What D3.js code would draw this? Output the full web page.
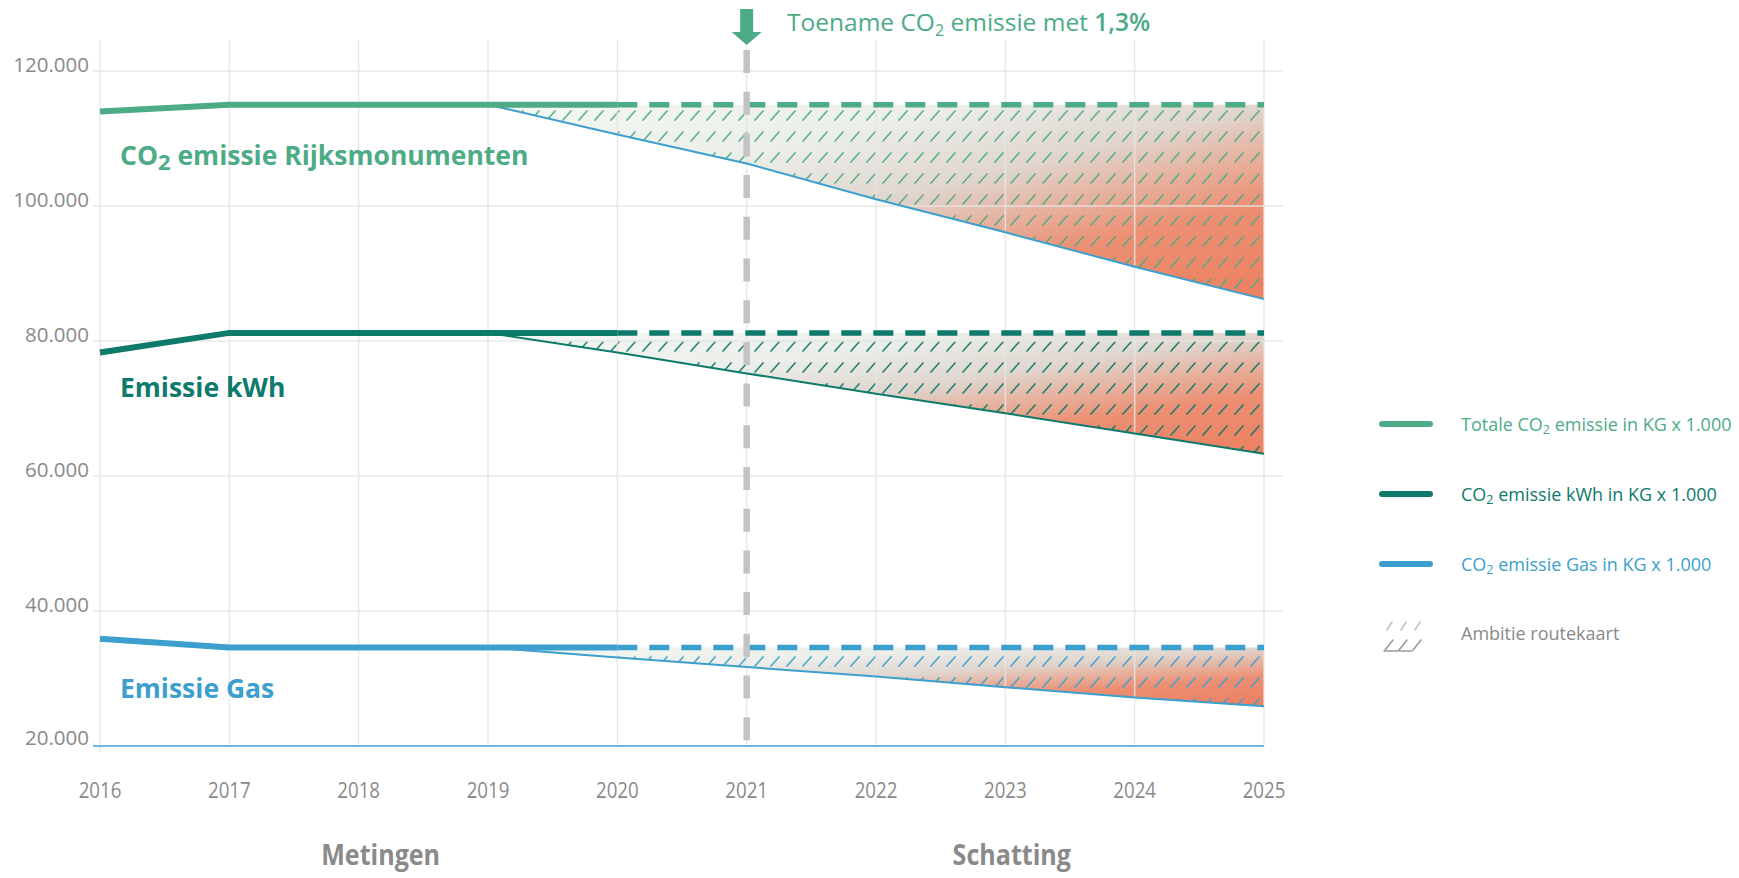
<!DOCTYPE html>
<html>
<head>
<meta charset="utf-8">
<script src="https://cdn.jsdelivr.net/npm/d3@7/dist/d3.min.js"></script>
<style>
  html, body { margin: 0; padding: 0; background: #ffffff; }
  svg { display: block; }
  text { font-family: "Open Sans", "Noto Sans", sans-serif; }
</style>
</head>
<body>
<svg id="chart" width="1739" height="878"></svg>
<script>
// ---------- data ----------
const years = [2016, 2017, 2018, 2019, 2020, 2021, 2022, 2023, 2024, 2025];
const measuredYears = [2016, 2017, 2018, 2019, 2020];
const projectedYears = [2019, 2020, 2021, 2022, 2023, 2024, 2025];
const dashedYears = [2020, 2021, 2022, 2023, 2024, 2025];

const totalMeasured = [114000, 115000, 115000, 115000, 115000];
const kwhMeasured   = [78300, 81200, 81200, 81200, 81200];
const gasMeasured   = [35900, 34600, 34600, 34600, 34600];

const totalProjected = [115000, 110600, 106300, 101000, 96100, 91000, 86200];
const kwhProjected   = [81200, 78300, 75200, 72200, 69300, 66300, 63300];
const gasProjected   = [34600, 33100, 31700, 30300, 28700, 27200, 25900];

const totalLevel = 115000, kwhLevel = 81200, gasLevel = 34600;

const yTicks = [20000, 40000, 60000, 80000, 100000, 120000];
const markYear = 2021;

const seriesNames = ["Totale CO₂ emissie in KG x 1.000", "CO₂ emissie kWh in KG x 1.000", "CO₂ emissie Gas in KG x 1.000"];
const seriesLabels = ["CO₂ emissie Rijksmonumenten", "Emissie kWh", "Emissie Gas"];
const periodLabels = ["Metingen", "Schatting"];
const periodYears = [2018.17, 2023.05];
const titleParts = ["Toename CO", "2", " emissie met ", "1,3%"];
const hatchLegend = "Ambitie routekaart";

const colors = { total: "#4dab86", kwh: "#0d7a6b", gas: "#3c9fcd", grid: "#e6e6e6", text: "#8a8a8a" };

// ---------- scales ----------
const svg = d3.select("#chart");
const x = d3.scaleLinear().domain([2016, 2025]).range([100, 1264]);
const y = d3.scaleLinear().domain([20000, 120000]).range([746, 71]);

// ---------- defs: gradients & hatches ----------
const defs = svg.append("defs");
function makeGradient(id) {
  const g = defs.append("linearGradient").attr("id", id)
    .attr("x1", 0).attr("y1", 0).attr("x2", 1).attr("y2", 1);
  [[0, "#f4f7f3"], [0.3, "#eceeea"], [0.5, "#e0d6cf"], [0.62, "#e6b3a0"], [0.75, "#ec8f73"], [1, "#ee7f60"]]
    .forEach(([o, c]) => g.append("stop").attr("offset", o).attr("stop-color", c));
}
function makeHatch(id, color) {
  const p = defs.append("pattern").attr("id", id).attr("patternUnits", "userSpaceOnUse")
    .attr("width", 16).attr("height", 21);
  p.append("line").attr("x1", 3).attr("y1", 15).attr("x2", 11).attr("y2", 6)
    .attr("stroke", color).attr("stroke-width", 1.7).attr("stroke-linecap", "round").attr("opacity", 0.9);
}
["gTotal", "gKwh", "gGas"].forEach(makeGradient);
makeHatch("hTotal", colors.total);
makeHatch("hKwh", colors.kwh);
makeHatch("hGas", colors.gas);

// ---------- areas ----------
const area = d3.area().x(d => x(d.year)).y0(d => y(d.lo)).y1(d => y(d.hi));
function drawArea(proj, level, grad, hatch) {
  const data = projectedYears.map((yr, i) => ({ year: yr, lo: proj[i], hi: level }));
  svg.append("path").datum(data).attr("d", area).attr("fill", `url(#${grad})`);
  svg.append("path").datum(data).attr("d", area).attr("fill", `url(#${hatch})`);
}
drawArea(totalProjected, totalLevel, "gTotal", "hTotal");
drawArea(kwhProjected, kwhLevel, "gKwh", "hKwh");
drawArea(gasProjected, gasLevel, "gGas", "hGas");

// ---------- grid ----------
const grid = svg.append("g");
grid.selectAll("line.v").data(years).join("line")
  .attr("x1", d => x(d)).attr("x2", d => x(d))
  .attr("y1", 40).attr("y2", d => d === 2016 ? 752 : 746)
  .attr("stroke", colors.grid).attr("stroke-width", 1.5).attr("opacity", 0.85);
grid.selectAll("line.h").data(yTicks.filter(t => t > 20000)).join("line")
  .attr("x1", 93).attr("x2", 1283)
  .attr("y1", d => y(d)).attr("y2", d => y(d))
  .attr("stroke", colors.grid).attr("stroke-width", 1.5).attr("opacity", 0.85);

// baseline axis (blue)
svg.append("line").attr("x1", 93).attr("x2", x(2025))
  .attr("y1", y(20000)).attr("y2", y(20000))
  .attr("stroke", "#6db8de").attr("stroke-width", 2);

// y labels
svg.append("g").selectAll("text").data(yTicks).join("text")
  .attr("x", 89).attr("y", d => y(d) + (d === 20000 ? -1 : 1))
  .attr("text-anchor", "end").attr("font-size", 20.5).attr("fill", colors.text)
  .text(d => d3.format(",")(d).replace(/,/g, "."));

// x labels (condensed look)
svg.append("g").selectAll("text").data(years).join("text")
  .attr("transform", d => `translate(${x(d)},798) scale(0.85,1)`)
  .attr("text-anchor", "middle").attr("font-size", 22).attr("fill", colors.text)
  .text(d => d);

// period labels
svg.append("g").selectAll("text").data(periodLabels).join("text")
  .attr("transform", (d, i) => `translate(${x(periodYears[i])},865) scale(0.88,1)`)
  .attr("text-anchor", "middle").attr("font-size", 28.5).attr("font-weight", "bold").attr("fill", colors.text)
  .text(d => d);

// ---------- lines ----------
const line = d3.line().x(d => x(d[0])).y(d => y(d[1]));
function drawSeries(measured, proj, level, color, projColor) {
  svg.append("path").datum(projectedYears.map((yr, i) => [yr, proj[i]]))
    .attr("d", line).attr("fill", "none").attr("stroke", projColor).attr("stroke-width", 2);
  svg.append("path").datum(dashedYears.map(yr => [yr, level]))
    .attr("d", line).attr("fill", "none").attr("stroke", color).attr("stroke-width", 5.5)
    .attr("stroke-dasharray", "20,12");
  svg.append("path").datum(measuredYears.map((yr, i) => [yr, measured[i]]))
    .attr("d", line).attr("fill", "none").attr("stroke", color).attr("stroke-width", 6);
}
drawSeries(totalMeasured, totalProjected, totalLevel, colors.total, colors.gas);
drawSeries(kwhMeasured, kwhProjected, kwhLevel, colors.kwh, colors.kwh);
drawSeries(gasMeasured, gasProjected, gasLevel, colors.gas, colors.gas);

// ---------- marker line 2021 ----------
svg.append("line").attr("x1", x(markYear)).attr("x2", x(markYear))
  .attr("y1", 50).attr("y2", 746)
  .attr("stroke", "#c3c3c3").attr("stroke-width", 6.5).attr("stroke-dasharray", "23,18.7");

// arrow
const ax = x(markYear);
svg.append("path")
  .attr("d", `M${ax - 6.5},9 L${ax + 6.5},9 L${ax + 6.5},32 L${ax + 15},32 L${ax},45 L${ax - 15},32 L${ax - 6.5},32 Z`)
  .attr("fill", colors.total);

// title
const title = svg.append("text").attr("x", 787).attr("y", 31).attr("font-size", 24.5).attr("fill", colors.total);
title.append("tspan").text(titleParts[0]);
title.append("tspan").attr("font-size", 16).attr("dy", 5).text(titleParts[1]);
title.append("tspan").attr("dy", -5).text(titleParts[2]);
title.append("tspan").attr("font-weight", 600).text(titleParts[3]);

// series labels
const lab1 = svg.append("text").attr("x", 120).attr("y", 165).attr("font-size", 26.5)
  .attr("font-weight", "bold").attr("fill", colors.total);
lab1.append("tspan").text("CO");
lab1.append("tspan").attr("font-size", 22).attr("dy", 5).text("2");
lab1.append("tspan").attr("dy", -5).text(seriesLabels[0].replace("CO₂", ""));
svg.append("text").attr("x", 120).attr("y", 397).attr("font-size", 26.5)
  .attr("font-weight", "bold").attr("fill", colors.kwh).text(seriesLabels[1]);
svg.append("text").attr("x", 120).attr("y", 698).attr("font-size", 26.5)
  .attr("font-weight", "bold").attr("fill", colors.gas).text(seriesLabels[2]);

// ---------- legend ----------
const legY = [424, 494, 564];
const legColors = [colors.total, colors.kwh, colors.gas];
const leg = svg.append("g");
seriesNames.forEach((name, i) => {
  leg.append("line").attr("x1", 1382).attr("x2", 1430).attr("y1", legY[i]).attr("y2", legY[i])
    .attr("stroke", legColors[i]).attr("stroke-width", 6).attr("stroke-linecap", "round");
  const t = leg.append("text").attr("x", 1461).attr("y", legY[i] + 6.5).attr("font-size", 18).attr("fill", legColors[i]);
  const parts = name.split("₂");
  t.append("tspan").text(parts[0]);
  t.append("tspan").attr("font-size", 12.5).attr("dy", 3.5).text("2");
  t.append("tspan").attr("dy", -3.5).text(parts[1]);
});
// hatch icon
const ic = leg.append("g").attr("stroke", "#9a9a9a").attr("stroke-width", 1.6).attr("stroke-linecap", "round");
[0, 1, 2].forEach(k => {
  ic.append("line").attr("x1", 1387 + k * 14).attr("y1", 630).attr("x2", 1392 + k * 14).attr("y2", 622).attr("opacity", 0.6);
  ic.append("line").attr("x1", 1385 + k * 14).attr("y1", 650).attr("x2", 1393 + k * 14).attr("y2", 640);
});
ic.append("line").attr("x1", 1384).attr("x2", 1412).attr("y1", 651).attr("y2", 651);
leg.append("text").attr("x", 1461).attr("y", 640).attr("font-size", 18).attr("fill", colors.text).text(hatchLegend);
</script>
</body>
</html>
